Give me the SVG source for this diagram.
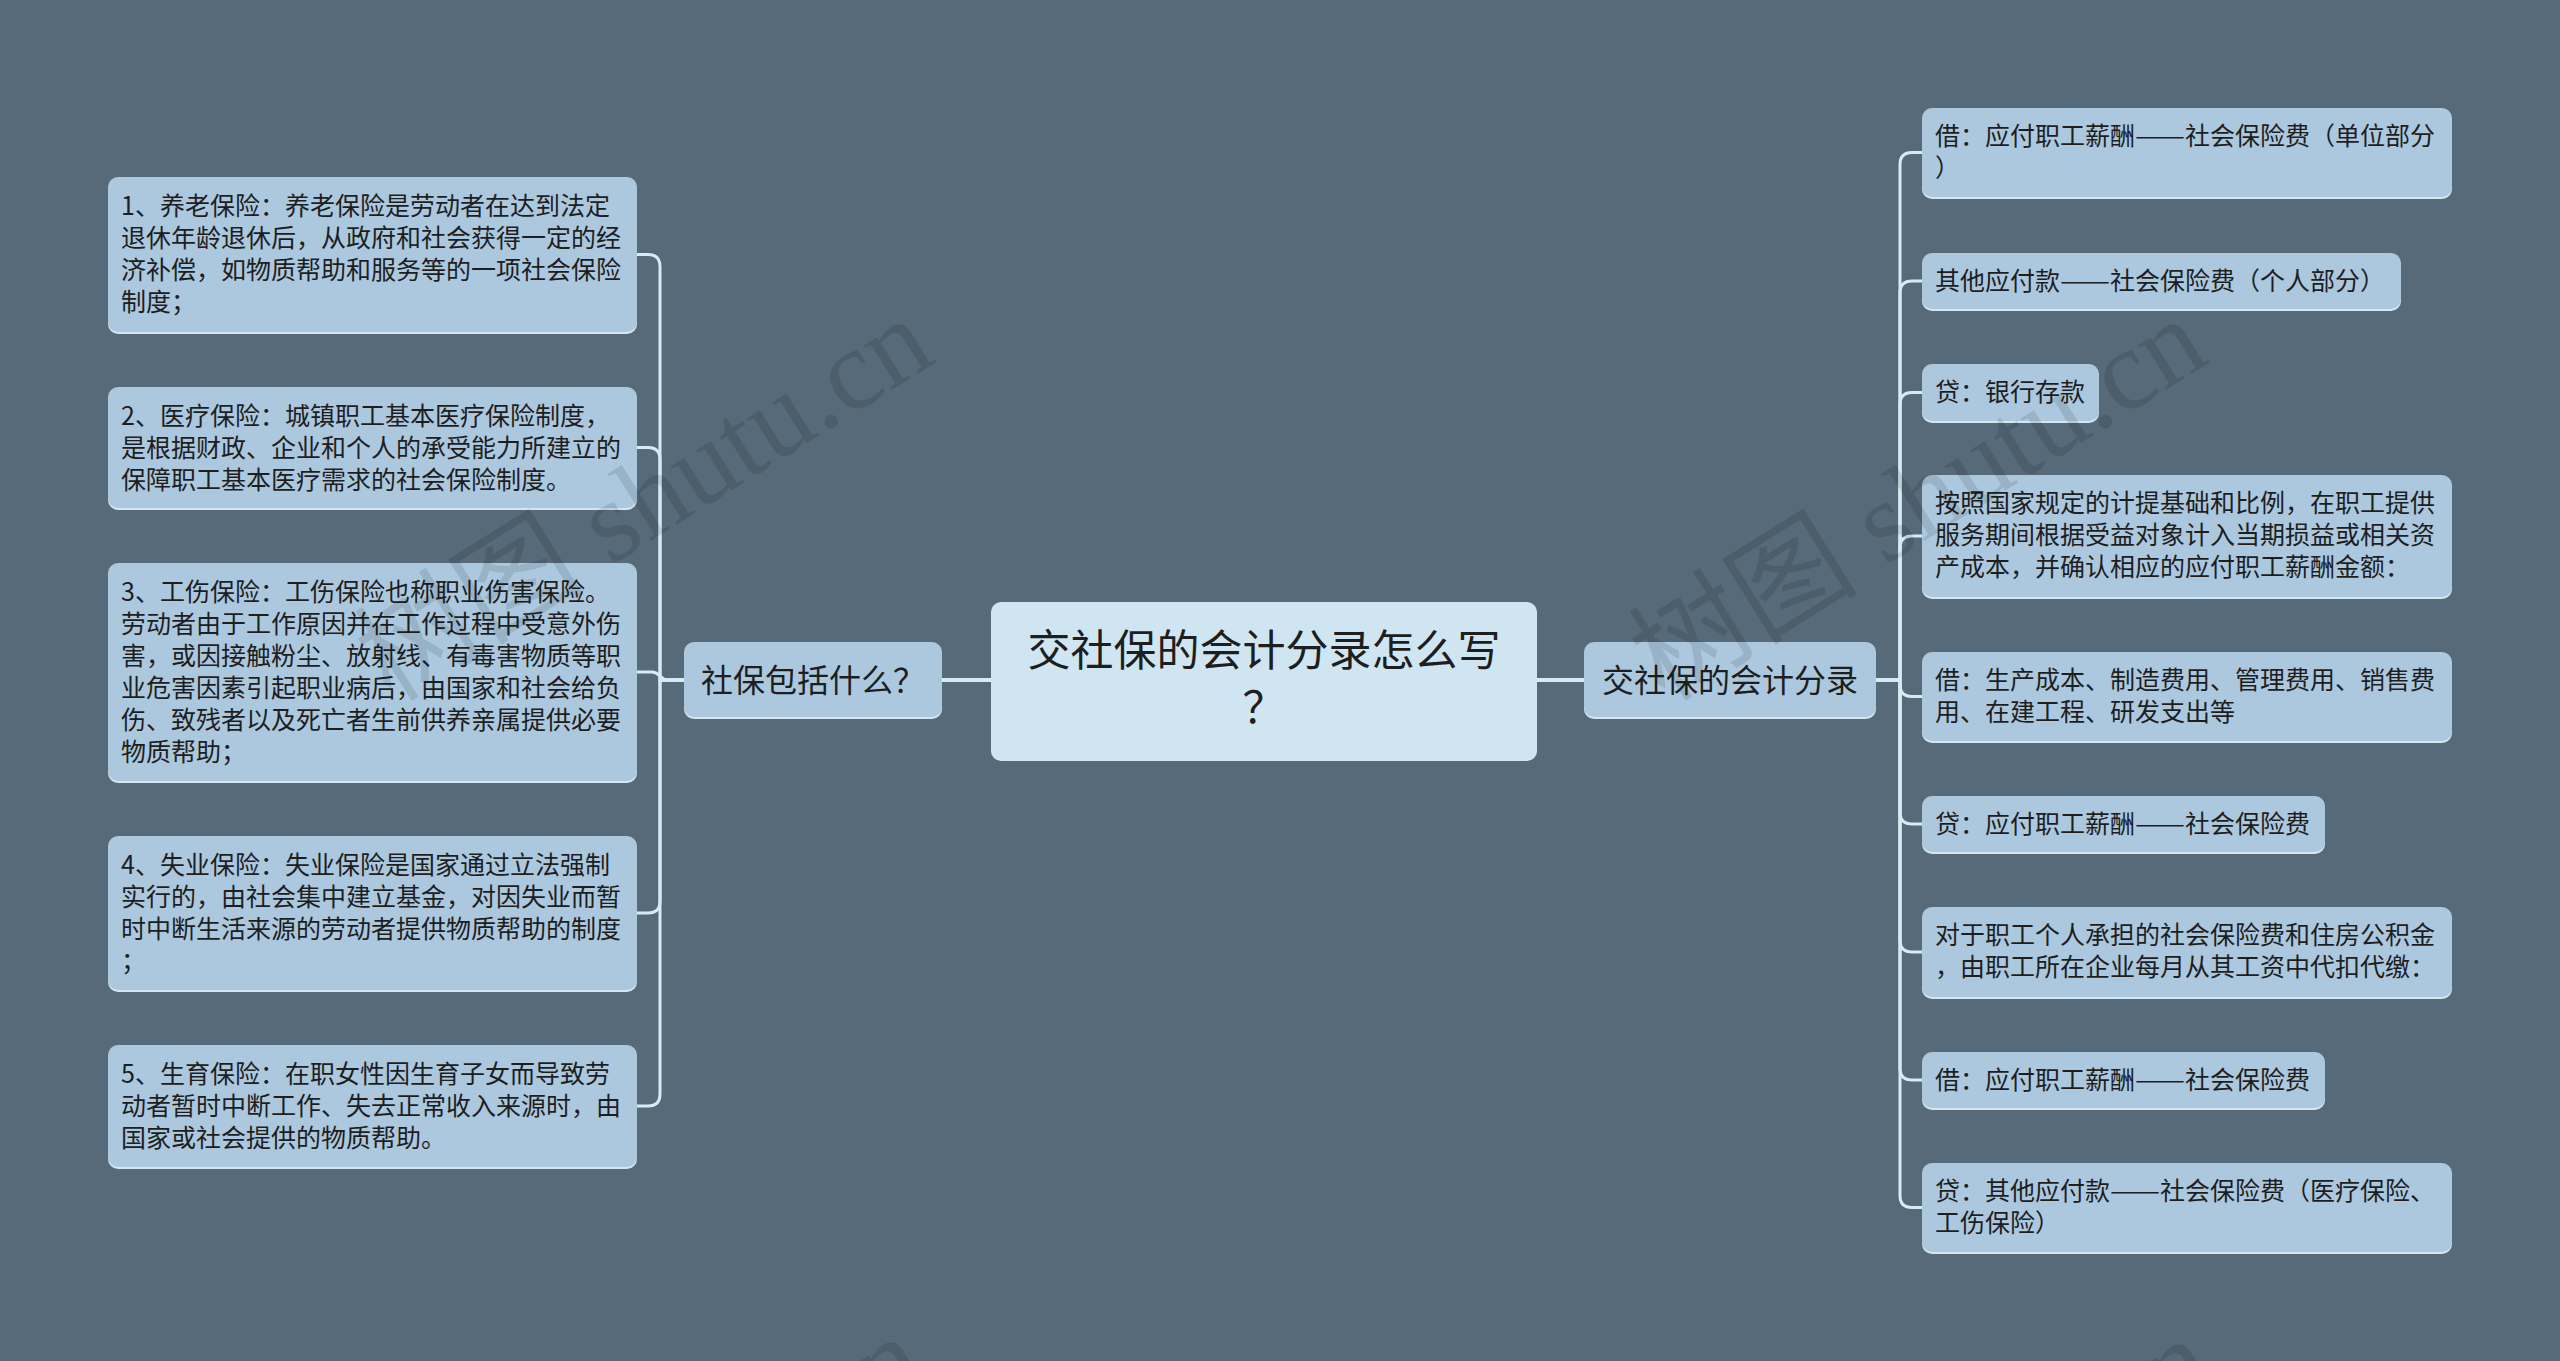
<svg xmlns="http://www.w3.org/2000/svg" width="2560" height="1361" viewBox="0 0 2560 1361">
<style>
.leaf{fill:#abc8df}
.sh{fill:#d3e6f1}
.root{fill:#cfe6f2}
.t{font-family:"Noto Sans CJK SC","Noto Sans",sans-serif;fill:#1e1e1e;font-size:25px}
.m{font-size:32px}
.r{font-size:43px}
.link{fill:none;stroke:#d4ecf3;stroke-width:3}
.rl{fill:none;stroke:#d4ecf3;stroke-width:4}
.wm{font-family:"Liberation Serif","Noto Sans CJK SC",serif;font-size:115px;fill:#000;fill-opacity:0.11}
</style>
<rect x="0" y="0" width="2560" height="1361" fill="#566a79"/>
<g id="connectors">
<path class="rl" d="M942,680 H991"/>
<path class="rl" d="M1537,680 H1584"/>
<path class="link" d="M684,680 H660 V266.5 Q660,254.5 648,254.5 H637"/>
<path class="link" d="M684,680 H660 V459.5 Q660,447.5 648,447.5 H637"/>
<path class="link" d="M684,680 H668 C660,680 660,672 652,672 H637"/>
<path class="link" d="M684,680 H660 V901 Q660,913 648,913 H637"/>
<path class="link" d="M684,680 H660 V1094 Q660,1106 648,1106 H637"/>
<path class="link" d="M1876,680 H1900 V164.5 Q1900,152.5 1912,152.5 H1922"/>
<path class="link" d="M1876,680 H1900 V293 Q1900,281 1912,281 H1922"/>
<path class="link" d="M1876,680 H1900 V404.5 Q1900,392.5 1912,392.5 H1922"/>
<path class="link" d="M1876,680 H1900 V548 Q1900,536 1912,536 H1922"/>
<path class="link" d="M1876,680 H1900 V684.5 Q1900,696.5 1912,696.5 H1922"/>
<path class="link" d="M1876,680 H1900 V812 Q1900,824 1912,824 H1922"/>
<path class="link" d="M1876,680 H1900 V940 Q1900,952 1912,952 H1922"/>
<path class="link" d="M1876,680 H1900 V1068 Q1900,1080 1912,1080 H1922"/>
<path class="link" d="M1876,680 H1900 V1195.5 Q1900,1207.5 1912,1207.5 H1922"/>
</g>
<g id="root">
<rect class="sh" x="991" y="604" width="546" height="157" rx="10"/>
<rect class="root" x="991" y="602" width="546" height="157" rx="10"/>
<text class="t r" x="1264" y="666" text-anchor="middle">交社保的会计分录怎么写</text>
<text class="t r" x="1264" y="723" text-anchor="middle">？</text>
</g>
<g id="mid-left">
<rect class="sh" x="684" y="644" width="258" height="75" rx="10"/>
<rect class="leaf" x="684" y="642" width="258" height="75" rx="10"/>
<text class="t m" x="701" y="692">社保包括什么？</text>
</g>
<g id="mid-right">
<rect class="sh" x="1584" y="644" width="292" height="75" rx="10"/>
<rect class="leaf" x="1584" y="642" width="292" height="75" rx="10"/>
<text class="t m" x="1602" y="692">交社保的会计分录</text>
</g>
<g id="l1">
<rect class="sh" x="108" y="179" width="529" height="155" rx="10"/>
<rect class="leaf" x="108" y="177" width="529" height="155" rx="10"/>
<text class="t" x="121" y="215">1、养老保险：养老保险是劳动者在达到法定</text>
<text class="t" x="121" y="247">退休年龄退休后，从政府和社会获得一定的经</text>
<text class="t" x="121" y="279">济补偿，如物质帮助和服务等的一项社会保险</text>
<text class="t" x="121" y="311">制度；</text>
</g>
<g id="l2">
<rect class="sh" x="108" y="389" width="529" height="121" rx="10"/>
<rect class="leaf" x="108" y="387" width="529" height="121" rx="10"/>
<text class="t" x="121" y="425">2、医疗保险：城镇职工基本医疗保险制度，</text>
<text class="t" x="121" y="457">是根据财政、企业和个人的承受能力所建立的</text>
<text class="t" x="121" y="489">保障职工基本医疗需求的社会保险制度。</text>
</g>
<g id="l3">
<rect class="sh" x="108" y="565" width="529" height="218" rx="10"/>
<rect class="leaf" x="108" y="563" width="529" height="218" rx="10"/>
<text class="t" x="121" y="601">3、工伤保险：工伤保险也称职业伤害保险。</text>
<text class="t" x="121" y="633">劳动者由于工作原因并在工作过程中受意外伤</text>
<text class="t" x="121" y="665">害，或因接触粉尘、放射线、有毒害物质等职</text>
<text class="t" x="121" y="697">业危害因素引起职业病后，由国家和社会给负</text>
<text class="t" x="121" y="729">伤、致残者以及死亡者生前供养亲属提供必要</text>
<text class="t" x="121" y="761">物质帮助；</text>
</g>
<g id="l4">
<rect class="sh" x="108" y="838" width="529" height="154" rx="10"/>
<rect class="leaf" x="108" y="836" width="529" height="154" rx="10"/>
<text class="t" x="121" y="874">4、失业保险：失业保险是国家通过立法强制</text>
<text class="t" x="121" y="906">实行的，由社会集中建立基金，对因失业而暂</text>
<text class="t" x="121" y="938">时中断生活来源的劳动者提供物质帮助的制度</text>
<text class="t" x="121" y="970">；</text>
</g>
<g id="l5">
<rect class="sh" x="108" y="1047" width="529" height="122" rx="10"/>
<rect class="leaf" x="108" y="1045" width="529" height="122" rx="10"/>
<text class="t" x="121" y="1083">5、生育保险：在职女性因生育子女而导致劳</text>
<text class="t" x="121" y="1115">动者暂时中断工作、失去正常收入来源时，由</text>
<text class="t" x="121" y="1147">国家或社会提供的物质帮助。</text>
</g>
<g id="r1">
<rect class="sh" x="1922" y="110" width="530" height="89" rx="10"/>
<rect class="leaf" x="1922" y="108" width="530" height="89" rx="10"/>
<text class="t" x="1935" y="145">借：应付职工薪酬<tspan textLength="50" lengthAdjust="spacingAndGlyphs">——</tspan><tspan x="2185">社会保险费（单位部分</tspan></text>
<text class="t" x="1935" y="177">）</text>
</g>
<g id="r2">
<rect class="sh" x="1922" y="255" width="479" height="56" rx="10"/>
<rect class="leaf" x="1922" y="253" width="479" height="56" rx="10"/>
<text class="t" x="1935" y="290">其他应付款<tspan textLength="50" lengthAdjust="spacingAndGlyphs">——</tspan><tspan x="2110">社会保险费（个人部分）</tspan></text>
</g>
<g id="r3">
<rect class="sh" x="1922" y="366" width="177" height="57" rx="10"/>
<rect class="leaf" x="1922" y="364" width="177" height="57" rx="10"/>
<text class="t" x="1935" y="401">贷：银行存款</text>
</g>
<g id="r4">
<rect class="sh" x="1922" y="477" width="530" height="122" rx="10"/>
<rect class="leaf" x="1922" y="475" width="530" height="122" rx="10"/>
<text class="t" x="1935" y="512">按照国家规定的计提基础和比例，在职工提供</text>
<text class="t" x="1935" y="544">服务期间根据受益对象计入当期损益或相关资</text>
<text class="t" x="1935" y="576">产成本，并确认相应的应付职工薪酬金额：</text>
</g>
<g id="r5">
<rect class="sh" x="1922" y="654" width="530" height="89" rx="10"/>
<rect class="leaf" x="1922" y="652" width="530" height="89" rx="10"/>
<text class="t" x="1935" y="689">借：生产成本、制造费用、管理费用、销售费</text>
<text class="t" x="1935" y="721">用、在建工程、研发支出等</text>
</g>
<g id="r6">
<rect class="sh" x="1922" y="798" width="403" height="56" rx="10"/>
<rect class="leaf" x="1922" y="796" width="403" height="56" rx="10"/>
<text class="t" x="1935" y="833">贷：应付职工薪酬<tspan textLength="50" lengthAdjust="spacingAndGlyphs">——</tspan><tspan x="2185">社会保险费</tspan></text>
</g>
<g id="r7">
<rect class="sh" x="1922" y="909" width="530" height="90" rx="10"/>
<rect class="leaf" x="1922" y="907" width="530" height="90" rx="10"/>
<text class="t" x="1935" y="944">对于职工个人承担的社会保险费和住房公积金</text>
<text class="t" x="1935" y="976">，由职工所在企业每月从其工资中代扣代缴：</text>
</g>
<g id="r8">
<rect class="sh" x="1922" y="1054" width="403" height="56" rx="10"/>
<rect class="leaf" x="1922" y="1052" width="403" height="56" rx="10"/>
<text class="t" x="1935" y="1089">借：应付职工薪酬<tspan textLength="50" lengthAdjust="spacingAndGlyphs">——</tspan><tspan x="2185">社会保险费</tspan></text>
</g>
<g id="r9">
<rect class="sh" x="1922" y="1165" width="530" height="89" rx="10"/>
<rect class="leaf" x="1922" y="1163" width="530" height="89" rx="10"/>
<text class="t" x="1935" y="1200">贷：其他应付款<tspan textLength="50" lengthAdjust="spacingAndGlyphs">——</tspan><tspan x="2160">社会保险费（医疗保险、</tspan></text>
<text class="t" x="1935" y="1232">工伤保险）</text>
</g>
<g id="watermarks">
<text class="wm" transform="translate(391,703) rotate(-32)">树图 shutu.cn</text>
<text class="wm" transform="translate(1665,703) rotate(-32)">树图 shutu.cn</text>
<text class="wm" transform="translate(383,1721) rotate(-32)">树图 shutu.cn</text>
<text class="wm" transform="translate(1671,1723) rotate(-32)">树图 shutu.cn</text>
</g>
</svg>
